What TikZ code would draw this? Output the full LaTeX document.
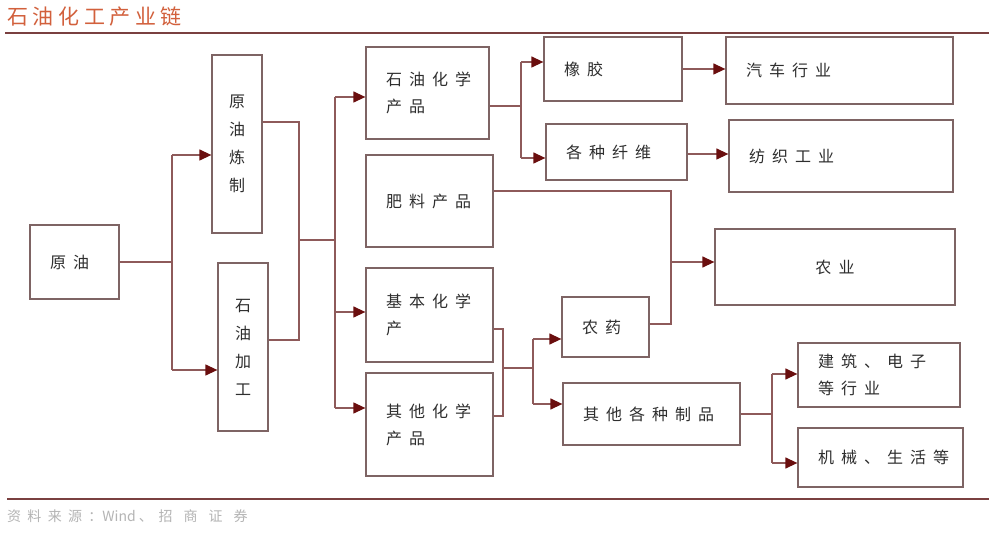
\documentclass[tikz,border=0pt]{standalone}
\usepackage{fontspec}
\newfontfamily\cjk[LetterSpace=44]{Noto Sans CJK SC}
\newfontfamily\cjkv{Noto Sans CJK SC}
\newfontfamily\cjkt[LetterSpace=22]{Noto Sans CJK SC}
\newfontfamily\cjks[LetterSpace=45]{Noto Sans CJK SC}
\newfontfamily\cjkss[LetterSpace=78]{Noto Sans CJK SC}
\usetikzlibrary{arrows.meta}
\definecolor{boxc}{HTML}{7E6464}
\definecolor{linec}{HTML}{8E5A5A}
\definecolor{arrc}{HTML}{6A0E0E}
\definecolor{txtc}{HTML}{2E2E2E}
\definecolor{titlec}{HTML}{D2603C}
\definecolor{rulec}{HTML}{7A4040}
\definecolor{srcc}{HTML}{B4B4B4}
\begin{document}
\begin{tikzpicture}[x=1pt,y=-1pt,
  box/.style={draw=boxc,line width=1.3pt,inner sep=0pt,inner xsep=20pt,align=left,
    font=\cjk\fontsize{16}{27}\selectfont,text=txtc},
  B/.style 2 args={box,text width=#1,minimum height=#2},
  vbox/.style={draw=boxc,line width=1.3pt,inner sep=0pt,align=center,
    font=\cjkv\fontsize{16}{28}\selectfont,text=txtc},
  conn/.style={draw=linec,line width=1.3pt},
  arr/.style={conn,-{Triangle[length=12pt,width=11pt,color=arrc]}},
]
\useasboundingbox[fill=white] (0,0) rectangle (989,540);

% title, rules, source
\node[anchor=west,inner sep=0pt,font=\cjkt\fontsize{21}{22}\selectfont,text=titlec] (title) at (7,17) {石油化工产业链};
\draw[rulec,line width=2pt] (5,33) -- (989,33);
\draw[rulec,line width=2pt] (7,499) -- (989,499);
\node[anchor=west,inner sep=0pt,font=\fontsize{14}{16}\selectfont,text=srcc] (src) at (7,516) {{\cjks 资料来源：}{\cjkv Wind\hspace{3pt}、\hspace{6pt}}{\cjkss 招商证券}};

% boxes
\node[B={49pt}{74pt}] (yuanyou) at (74.5,262) {原油};
\node[vbox,minimum width=50pt,minimum height=178pt] (lianzhi) at (237,144) {原\\油\\炼\\制};
\node[vbox,minimum width=50pt,minimum height=168pt] (jiagong) at (243,347) {石\\油\\加\\工};
\node[B={83pt}{92pt}] (shihua) at (427.5,93) {石油化学\\产品};
\node[B={87pt}{92pt}] (feiliao) at (429.5,201) {肥料产品};
\node[B={87pt}{94pt}] (jiben) at (429.5,315) {基本化学\\产};
\node[B={87pt}{103pt}] (qita) at (429.5,424.5) {其他化学\\产品};
\node[B={98pt}{64pt}] (xiangjiao) at (613,69) {橡胶};
\node[B={101pt}{56pt}] (xianwei) at (616.5,152) {各种纤维};
\node[B={187pt}{67pt}] (qiche) at (839.5,70.5) {汽车行业};
\node[B={184pt}{72pt}] (fangzhi) at (841,156) {纺织工业};
\node[B={200pt}{76pt},align=center] (nongye) at (835,267) {农业};
\node[B={47pt}{60pt}] (nongyao) at (605.5,327) {农药};
\node[B={137pt}{62pt}] (zhipin) at (651.5,414) {其他各种制品};
\node[B={122pt}{64pt}] (jianzhu) at (879,375) {建筑、电子\\等行业};
\node[B={125pt}{59pt}] (jixie) at (880.5,457.5) {机械、生活等};

% connectors
\coordinate (j1) at (172,262);
\coordinate (a1) at (172,155);
\coordinate (a2) at (172,370);
\draw[conn] (yuanyou.east |- j1) -- (j1);
\draw[conn] (a1) -- (a2);
\draw[arr] (a1) -- (lianzhi.west |- a1);
\draw[arr] (a2) -- (jiagong.west |- a2);

\coordinate (b1) at (299,122);
\coordinate (b2) at (299,340);
\coordinate (b3) at (299,240);
\coordinate (c0) at (335,240);
\coordinate (c1) at (335,97);
\coordinate (c2) at (335,312);
\coordinate (c3) at (335,408);
\draw[conn] (lianzhi.east |- b1) -- (b1) -- (b2) -- (jiagong.east |- b2);
\draw[conn] (b3) -- (c0);
\draw[conn] (c1) -- (c3);
\draw[arr] (c1) -- (shihua.west |- c1);
\draw[arr] (c2) -- (jiben.west |- c2);
\draw[arr] (c3) -- (qita.west |- c3);

\coordinate (d0) at (521,106);
\coordinate (d1) at (521,62);
\coordinate (d2) at (521,158);
\draw[conn] (shihua.east |- d0) -- (d0);
\draw[conn] (d1) -- (d2);
\draw[arr] (d1) -- (xiangjiao.west |- d1);
\draw[arr] (d2) -- (xianwei.west |- d2);
\coordinate (e0) at (700,69);
\coordinate (e1) at (700,154);
\draw[arr] (xiangjiao.east |- e0) -- (qiche.west |- e0);
\draw[arr] (xianwei.east |- e1) -- (fangzhi.west |- e1);

\coordinate (f1) at (671,191);
\coordinate (f2) at (671,324);
\coordinate (f3) at (671,262);
\draw[conn] (feiliao.east |- f1) -- (f1) -- (f2) -- (nongyao.east |- f2);
\draw[arr] (f3) -- (nongye.west |- f3);

\coordinate (g1) at (503,329);
\coordinate (g2) at (503,416);
\coordinate (g3) at (503,368);
\coordinate (h0) at (533,368);
\coordinate (h1) at (533,339);
\coordinate (h2) at (533,404);
\draw[conn] (jiben.east |- g1) -- (g1) -- (g2) -- (qita.east |- g2);
\draw[conn] (g3) -- (h0);
\draw[conn] (h1) -- (h2);
\draw[arr] (h1) -- (nongyao.west |- h1);
\draw[arr] (h2) -- (zhipin.west |- h2);

\coordinate (k0) at (772,414);
\coordinate (k1) at (772,374);
\coordinate (k2) at (772,463);
\draw[conn] (zhipin.east |- k0) -- (k0);
\draw[conn] (k1) -- (k2);
\draw[arr] (k1) -- (jianzhu.west |- k1);
\draw[arr] (k2) -- (jixie.west |- k2);
\end{tikzpicture}
\end{document}
